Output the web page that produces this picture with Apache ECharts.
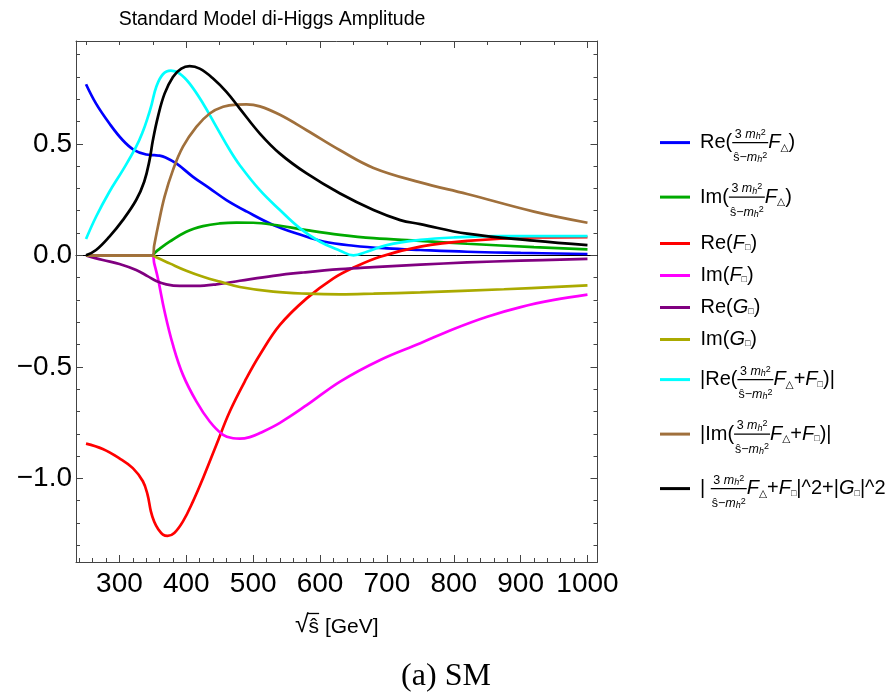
<!DOCTYPE html>
<html>
<head>
<meta charset="utf-8">
<title>Standard Model di-Higgs Amplitude</title>
<script src="https://cdn.jsdelivr.net/npm/echarts@6.0.0/dist/echarts.min.js"></script>
<style>
  html, body { margin: 0; padding: 0; background: #ffffff; }
  #chart { width: 892px; height: 696px; }
</style>
</head>
<body>
<div id="chart"></div>
<script>
// Amplitude components as functions of sqrt(s-hat) in GeV: [energy, value]
const reTriangle = [[250,0.767],[265,0.680],[285,0.591],[305,0.516],[322,0.472],[340,0.452],[352,0.449],[360,0.447],[368,0.440],[385,0.412],[410,0.352],[435,0.300],[460,0.248],[490,0.197],[530,0.136],[570,0.093],[605,0.062],[650,0.043],[700,0.031],[750,0.024],[820,0.016],[900,0.011],[1000,0.006]];
const imTriangle = [[250,0],[340,0],[349,0],[353,0.012],[360,0.029],[375,0.061],[400,0.106],[425,0.131],[450,0.143],[475,0.147],[500,0.146],[530,0.137],[580,0.113],[630,0.092],[680,0.077],[750,0.065],[820,0.052],[920,0.037],[1000,0.027]];
const reFBox = [[250,-0.844],[275,-0.868],[300,-0.910],[320,-0.954],[335,-1.013],[342,-1.073],[347,-1.148],[352,-1.195],[358,-1.228],[365,-1.252],[372,-1.258],[382,-1.245],[395,-1.193],[410,-1.103],[425,-0.999],[445,-0.849],[465,-0.700],[490,-0.551],[510,-0.446],[540,-0.312],[580,-0.193],[620,-0.103],[650,-0.055],[690,-0.006],[750,0.039],[820,0.065],[920,0.080],[1000,0.082]];
const imFBox = [[250,0],[340,0],[349,0],[352,-0.036],[357.5,-0.103],[367.5,-0.252],[380,-0.402],[395,-0.536],[415,-0.655],[435,-0.745],[455,-0.805],[470,-0.820],[480,-0.822],[495,-0.815],[510,-0.797],[540,-0.751],[580,-0.672],[630,-0.566],[690,-0.469],[750,-0.394],[800,-0.330],[850,-0.275],[900,-0.232],[950,-0.200],[1000,-0.176]];
const reGBox = [[250,0],[275,-0.021],[300,-0.039],[325,-0.066],[342,-0.093],[355,-0.115],[370,-0.130],[390,-0.137],[415,-0.137],[445,-0.130],[480,-0.114],[530,-0.092],[575,-0.077],[630,-0.062],[680,-0.053],[750,-0.042],[820,-0.032],[900,-0.024],[1000,-0.016]];
const imGBox = [[250,0],[340,0],[349,0],[355,-0.009],[375,-0.036],[400,-0.069],[425,-0.096],[450,-0.118],[480,-0.142],[530,-0.163],[580,-0.172],[630,-0.175],[680,-0.172],[750,-0.166],[875,-0.152],[1000,-0.135]];
const absReSum = [[250,0.073],[265,0.173],[285,0.285],[305,0.382],[325,0.487],[335,0.555],[342,0.615],[348,0.675],[355,0.755],[365,0.812],[377,0.828],[390,0.815],[405,0.770],[425,0.681],[445,0.576],[465,0.472],[480,0.404],[510,0.292],[540,0.203],[570,0.121],[600,0.061],[630,0.021],[650,0.0],[670,0.016],[700,0.046],[750,0.069],[800,0.080],[870,0.086],[1000,0.086]];
const absImSum = [[250,0],[340,0],[349,0],[352,0.045],[357.5,0.128],[367.5,0.263],[380,0.382],[395,0.487],[415,0.576],[435,0.636],[455,0.666],[475,0.676],[490,0.677],[510,0.668],[540,0.630],[580,0.561],[630,0.471],[680,0.392],[750,0.327],[820,0.275],[920,0.196],[1000,0.146]];
const totalSq = [[250,0],[265,0.024],[285,0.084],[305,0.158],[325,0.248],[337,0.330],[345,0.427],[350,0.516],[357.5,0.621],[367.5,0.725],[380,0.800],[392.5,0.837],[405,0.848],[420,0.837],[440,0.793],[460,0.733],[480,0.658],[510,0.546],[540,0.456],[580,0.367],[630,0.277],[680,0.203],[720,0.158],[750,0.140],[820,0.097],[920,0.066],[1000,0.046]];

const seriesNames = [
  'Re(3mh²/(ŝ−mh²) FΔ)', 'Im(3mh²/(ŝ−mh²) FΔ)', 'Re(F□)', 'Im(F□)', 'Re(G□)', 'Im(G□)',
  '|Re(3mh²/(ŝ−mh²) FΔ+F□)|', '|Im(3mh²/(ŝ−mh²) FΔ+F□)|', '|3mh²/(ŝ−mh²) FΔ+F□|^2+|G□|^2'
];
const seriesData = [reTriangle, imTriangle, reFBox, imFBox, reGBox, imGBox, absReSum, absImSum, totalSq];
const seriesColors = ['#0000ff', '#00aa00', '#ff0000', '#ff00ff', '#800080', '#aaaa00', '#00ffff', '#a0703c', '#000000'];

// Axis ticks
const xMajorTicks = [300, 400, 500, 600, 700, 800, 900, 1000];
const xMinorTicks = [240, 260, 280, 320, 340, 360, 380, 420, 440, 460, 480, 520, 540, 560, 580, 620, 640, 660, 680, 720, 740, 760, 780, 820, 840, 860, 880, 920, 940, 960, 980];
const xTopMajorTicks = [400, 600, 800, 1000];
const xTopMinorTicks = [250, 300, 350, 450, 500, 550, 650, 700, 750, 850, 900, 950];
const yMajorTicks = [-1.0, -0.5, 0.0, 0.5];
const yMinorTicks = [-1.3, -1.2, -1.1, -0.9, -0.8, -0.7, -0.6, -0.4, -0.3, -0.2, -0.1, 0.1, 0.2, 0.3, 0.4, 0.6, 0.7, 0.8, 0.9];

const X_MIN = 235, X_MAX = 1015, Y_MIN = -1.375, Y_MAX = 0.961;
const FAMILY = '"Liberation Sans", "DejaVu Sans", sans-serif';
const FRAME = '#444444';

// ---- rich-text helpers for the math legend labels ----
const measureCtx = document.createElement('canvas').getContext('2d');
function textWidth(str, size, italic) {
  measureCtx.font = (italic ? 'italic' : 'normal') + ' normal ' + size + 'px ' + FAMILY;
  return measureCtx.measureText(str).width;
}
// vertical padding that moves a glyph by `shift` px and gives its box a half-height of at least `half`
function vpad(fontSize, shift, half) {
  const h = Math.max(half || 0, fontSize / 2 + Math.abs(shift));
  return [h - fontSize / 2 + shift, 0, h - fontSize / 2 - shift, 0];
}

const MAIN_LH = 11.5, FRAC_LH = 6;
// [fontSize, italic, lineHeight, vertical shift, box half-height]
const glyphStyles = {
  t:  [20, false, MAIN_LH, 0],
  ti: [20, true, MAIN_LH, 0],
  tt: [10.5, false, MAIN_LH, 5.5],
  tb: [9, false, MAIN_LH, 4.5],
  n:  [12.5, false, FRAC_LH, 0.25, 9.6],
  ni: [12.5, true, FRAC_LH, 0.25, 9.6],
  nh: [9, true, FRAC_LH, 2.75],
  n2: [9, false, FRAC_LH, -1.75],
  d:  [12.5, false, FRAC_LH, 6.25, 15.9],
  di: [12.5, true, FRAC_LH, 6.25, 15.9],
  dh: [9, true, FRAC_LH, 8.25],
  d2: [9, false, FRAC_LH, 3.75]
};
const legendRich = {};
Object.keys(glyphStyles).forEach(function (k) {
  const g = glyphStyles[k];
  legendRich[k] = {
    fontSize: g[0], fontStyle: g[1] ? 'italic' : 'normal', fontFamily: FAMILY,
    color: '#000', lineHeight: g[2], padding: vpad(g[0], g[3], g[4])
  };
});
// invisible strut that sets the height of single-line entries
legendRich.strut = { width: 0.5, fontSize: 20.7, fontFamily: FAMILY, lineHeight: MAIN_LH };

let tokenId = 0;
function spacer(dict, w) {
  const k = 'sp' + (tokenId++);
  dict[k] = { width: Math.max(0.5, w), fontSize: 1, lineHeight: 1 };
  return '{' + k + '| }';
}
function rule(dict, w, thick) {
  const k = 'br' + (tokenId++);
  dict[k] = { width: w, height: thick || 1.2, backgroundColor: '#000', fontSize: 1, lineHeight: 1 };
  return '{' + k + '| }';
}
function segWidth(segs) {
  return segs.reduce(function (s, seg) {
    const g = glyphStyles[seg[0]];
    return s + textWidth(seg[1], g[0], g[1]);
  }, 0);
}
function segText(segs) {
  return segs.map(function (seg) { return '{' + seg[0] + '|' + seg[1] + '}'; }).join('');
}

const FRAC_NUM = [['n', '3 '], ['ni', 'm'], ['nh', 'h'], ['n2', '2']];
const FRAC_DEN = [['d', 'ŝ'], ['d', '−'], ['di', 'm'], ['dh', 'h'], ['d2', '2']];
const F_TRI = [['ti', 'F'], ['tt', '△']];
const F_BOX = [['ti', 'F'], ['tb', '□']];
const G_BOX = [['ti', 'G'], ['tb', '□']];
const legendMarkup = [
  { pre: [['t', 'Re(']], post: F_TRI.concat([['t', ')']]) },
  { pre: [['t', 'Im(']], post: F_TRI.concat([['t', ')']]) },
  { line: [['t', 'Re(']].concat(F_BOX, [['t', ')']]) },
  { line: [['t', 'Im(']].concat(F_BOX, [['t', ')']]) },
  { line: [['t', 'Re(']].concat(G_BOX, [['t', ')']]) },
  { line: [['t', 'Im(']].concat(G_BOX, [['t', ')']]) },
  { pre: [['t', '|Re(']], post: F_TRI.concat([['t', '+']], F_BOX, [['t', ')|']]) },
  { pre: [['t', '|Im(']], post: F_TRI.concat([['t', '+']], F_BOX, [['t', ')|']]) },
  { pre: [['t', '| ']], post: F_TRI.concat([['t', '+']], F_BOX, [['t', '|^2+|']], G_BOX, [['t', '|^2']]) }
];
const LEAD = 5;
function buildLabel(m) {
  if (m.line) return spacer(legendRich, LEAD) + '{strut| }' + segText(m.line);
  const wPre = segWidth(m.pre), wNum = segWidth(FRAC_NUM), wDen = segWidth(FRAC_DEN);
  const wBar = Math.max(wNum, wDen) + 2;
  const l1 = spacer(legendRich, LEAD + wPre + (wBar - wNum) / 2) + segText(FRAC_NUM);
  const l2 = spacer(legendRich, LEAD) + segText(m.pre) + rule(legendRich, wBar) + segText(m.post);
  const l3 = spacer(legendRich, LEAD + wPre + (wBar - wDen) / 2) + segText(FRAC_DEN);
  return l1 + '\n' + l2 + '\n' + l3;
}
const legendLabels = {};
seriesNames.forEach(function (name, i) { legendLabels[name] = buildLabel(legendMarkup[i]); });

// x-axis name: sqrt(s-hat) with the radical's overbar, then the unit
const nameRich = {
  xr: { fontSize: 25, fontFamily: FAMILY, color: '#000', lineHeight: 23 },
  xs: { fontSize: 21, fontFamily: FAMILY, color: '#000', lineHeight: 23, padding: [3, 0, 0, 0] },
  xg: { fontSize: 21, fontFamily: FAMILY, color: '#000', lineHeight: 23, padding: [3, 0, 0, 0] }
};
const wRoot = textWidth('√', 25, false), wS = textWidth('ŝ', 21, false), wUnit = textWidth(' [GeV]', 21, false);
const xAxisName = spacer(nameRich, wRoot - 1.5) + rule(nameRich, wS + 1.5, 1.3) + spacer(nameRich, wUnit) +
  '\n{xr|√}{xs|ŝ}{xg| [GeV]}';

function tickAxis(pos, values, len, withLine) {
  return {
    type: 'value', min: X_MIN, max: X_MAX, position: pos,
    axisLine: { show: withLine, onZero: false, lineStyle: { color: FRAME, width: 1 } },
    axisTick: { show: true, inside: true, length: len, customValues: values, lineStyle: { color: FRAME, width: 1 } },
    axisLabel: { show: false }, splitLine: { show: false }
  };
}
function yTickAxis(pos, values, len, withLine) {
  return {
    type: 'value', min: Y_MIN, max: Y_MAX, position: pos,
    axisLine: { show: withLine, onZero: false, lineStyle: { color: FRAME, width: 1 } },
    axisTick: { show: true, inside: true, length: len, customValues: values, lineStyle: { color: FRAME, width: 1 } },
    axisLabel: { show: false }, splitLine: { show: false }
  };
}

const xMain = tickAxis('bottom', xMajorTicks, 7, true);
xMain.axisLabel = {
  show: true, customValues: xMajorTicks, fontSize: 28, fontFamily: FAMILY, color: '#000', margin: 8,
  formatter: function (v) { return String(v); }
};
xMain.name = xAxisName;
xMain.nameLocation = 'middle';
xMain.nameGap = 51;
xMain.nameTextStyle = { rich: nameRich, color: '#000' };

const zeroLine = {
  type: 'value', min: X_MIN, max: X_MAX, position: 'bottom',
  axisLine: { show: true, onZero: true, onZeroAxisIndex: 0, lineStyle: { color: '#000', width: 1 } },
  axisTick: { show: false }, axisLabel: { show: false }, splitLine: { show: false }
};

const yMain = yTickAxis('left', yMajorTicks, 7, true);
yMain.axisLabel = {
  show: true, customValues: yMajorTicks, fontSize: 28, fontFamily: FAMILY, color: '#000', margin: 4,
  formatter: function (v) { return (v < 0 ? '−' : '') + Math.abs(v).toFixed(1); }
};

const chart = echarts.init(document.getElementById('chart'), null, { renderer: 'canvas' });
chart.setOption({
  backgroundColor: '#ffffff',
  animation: false,
  title: [
    { text: 'Standard Model di-Higgs Amplitude', left: 267, top: 5, textAlign: 'center',
      textStyle: { fontSize: 19.5, fontWeight: 'normal', fontFamily: FAMILY, color: '#000' } },
    { text: '(a) SM', left: 'center', top: 656,
      textStyle: { fontSize: 32, fontWeight: 'normal', fontFamily: '"Liberation Serif", "DejaVu Serif", serif', color: '#000' } }
  ],
  grid: { left: 76, right: 294.5, top: 41, bottom: 134, containLabel: false, outerBoundsMode: 'none' },
  xAxis: [
    xMain,
    tickAxis('bottom', xMinorTicks, 4, false),
    tickAxis('top', xTopMajorTicks, 7, true),
    tickAxis('top', xTopMinorTicks, 4, false),
    zeroLine
  ],
  yAxis: [
    yMain,
    yTickAxis('left', yMinorTicks, 4, false),
    yTickAxis('right', yMajorTicks, 7, true),
    yTickAxis('right', yMinorTicks, 4, false)
  ],
  legend: {
    orient: 'vertical', left: 660, top: 124, padding: 0, itemGap: 11,
    itemWidth: 30, itemHeight: 3, icon: 'rect', selectedMode: false,
    data: seriesNames,
    formatter: function (name) { return legendLabels[name]; },
    textStyle: { color: '#000', rich: legendRich }
  },
  series: seriesNames.map(function (name, i) {
    return {
      name: name, type: 'line', xAxisIndex: 0, yAxisIndex: 0,
      data: seriesData[i], showSymbol: false, smooth: 0.4,
      lineStyle: { color: seriesColors[i], width: 2.7 },
      itemStyle: { color: seriesColors[i] },
      emphasis: { disabled: true }
    };
  })
});
</script>
</body>
</html>
